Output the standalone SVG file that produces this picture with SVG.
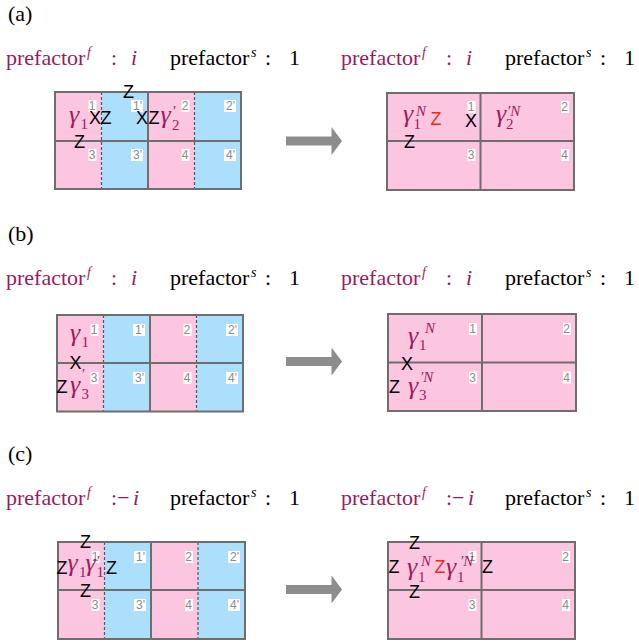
<svg xmlns="http://www.w3.org/2000/svg" width="639" height="644" viewBox="0 0 639 644">
<style>
.pk{fill:#fcc5e0}
.bl{fill:#abdffb}
.gl{fill:none;stroke:#6e6e6e;stroke-width:2}
.dl{stroke:#555;stroke-width:1.2;stroke-dasharray:3 2}
.lb{fill:#fff}
.lt{font-family:"Liberation Sans",Arial,sans-serif;font-size:12px;fill:#8a8a8a;text-anchor:end}
.op{font-family:"Liberation Sans",Arial,sans-serif;font-size:18px;fill:#000}
.red{fill:#ee2a1c}
.g{font-family:"Liberation Serif","DejaVu Serif",serif;font-style:italic;font-size:26px;fill:#9b1b5b}
.sb{font-family:"Liberation Serif","DejaVu Serif",serif;font-size:15px;fill:#9b1b5b}
.sp{font-family:"Liberation Serif","DejaVu Serif",serif;font-style:italic;font-size:15px;fill:#9b1b5b}
.hd{font-family:"Liberation Serif",serif;font-size:22px;fill:#000}
.mag{fill:#9b1b5b}
.it{font-style:italic}
.sup{font-family:"Liberation Serif",serif;font-style:italic;font-size:14px}
.arr{fill:#8d8d8d}
</style>

<g id="panel-a">
  <text class="hd" x="8" y="21">(a)</text>
  <g id="a-prefactors">
    <text class="hd mag" x="6" y="65">prefactor</text>
    <text class="sup mag" x="87" y="57">f</text>
    <text class="hd mag" x="111" y="65">:</text>
    <text class="hd mag it" x="131" y="65">i</text>
    <text class="hd" x="170" y="65">prefactor</text>
    <text class="sup" x="251" y="57">s</text>
    <text class="hd" x="265" y="65">:</text>
    <text class="hd" x="289" y="65">1</text>
    <text class="hd mag" x="341" y="65">prefactor</text>
    <text class="sup mag" x="422" y="57">f</text>
    <text class="hd mag" x="446" y="65">:</text>
    <text class="hd mag it" x="466" y="65">i</text>
    <text class="hd" x="505" y="65">prefactor</text>
    <text class="sup" x="586" y="57">s</text>
    <text class="hd" x="600" y="65">:</text>
    <text class="hd" x="624" y="65">1</text>
  </g>
  <g id="a-left">
    <rect class="pk" x="55" y="92" width="46.5" height="97"/>
    <rect class="bl" x="101.5" y="92" width="46.5" height="97"/>
    <rect class="pk" x="148" y="92" width="46.5" height="97"/>
    <rect class="bl" x="194.5" y="92" width="46.5" height="97"/>
    <line class="dl" x1="101.5" y1="92" x2="101.5" y2="189"/>
    <line class="dl" x1="194.5" y1="92" x2="194.5" y2="189"/>
    <path class="gl" d="M55,92H241V189H55Z M148,92V189 M55,141H241"/>
    <rect class="lb" x="88.5" y="100" width="8" height="12"/><text class="lt" x="95.5" y="110">1</text>
    <rect class="lb" x="131" y="100" width="12" height="12"/><text class="lt" x="142" y="110">1'</text>
    <rect class="lb" x="181.5" y="100" width="8" height="12"/><text class="lt" x="188.5" y="110">2</text>
    <rect class="lb" x="224" y="100" width="12" height="12"/><text class="lt" x="235" y="110">2'</text>
    <rect class="lb" x="88.5" y="149" width="8" height="12"/><text class="lt" x="95.5" y="159">3</text>
    <rect class="lb" x="131" y="149" width="12" height="12"/><text class="lt" x="142" y="159">3'</text>
    <rect class="lb" x="181.5" y="149" width="8" height="12"/><text class="lt" x="188.5" y="159">4</text>
    <rect class="lb" x="224" y="149" width="12" height="12"/><text class="lt" x="235" y="159">4'</text>
    <text class="g" x="69" y="123">γ</text><text class="sb" x="80.5" y="129">1</text>
    <text class="op" x="89" y="123.5">X</text>
    <text class="op" x="100.5" y="123.5">Z</text>
    <text class="op" x="123" y="97.5">Z</text>
    <text class="op" x="136" y="123.5">X</text>
    <text class="op" x="148.5" y="123.5">Z</text>
    <text class="g" x="160.5" y="123">γ</text><text class="sb" x="173" y="116">′</text><text class="sb" x="172" y="130">2</text>
    <text class="op" x="74" y="147.5">Z</text>
  </g>
  <g id="a-right">
    <rect class="pk" x="387" y="93" width="187" height="97"/>
    <path class="gl" d="M387,93H574V190H387Z M480.5,93V190 M387,141H574"/>
    <rect class="lb" x="467.5" y="101" width="8" height="12"/><text class="lt" x="474.5" y="111">1</text>
    <rect class="lb" x="561" y="101" width="8" height="12"/><text class="lt" x="568" y="111">2</text>
    <rect class="lb" x="467.5" y="149" width="8" height="12"/><text class="lt" x="474.5" y="159">3</text>
    <rect class="lb" x="561" y="149" width="8" height="12"/><text class="lt" x="568" y="159">4</text>
    <text class="g" x="403" y="122">γ</text><text class="sb" x="413.5" y="129">1</text><text class="sp" x="416" y="116">N</text>
    <text class="op red" x="430.5" y="125">Z</text>
    <text class="op" x="465" y="126.5">X</text>
    <text class="g" x="496" y="122">γ</text><text class="sp" x="507" y="116">′N</text><text class="sb" x="506" y="129">2</text>
    <text class="op" x="404" y="148">Z</text>
  </g>
</g>

<g id="panel-b">
  <text class="hd" x="8" y="241">(b)</text>
  <g id="b-prefactors">
    <text class="hd mag" x="6" y="285">prefactor</text>
    <text class="sup mag" x="87" y="277">f</text>
    <text class="hd mag" x="111" y="285">:</text>
    <text class="hd mag it" x="131" y="285">i</text>
    <text class="hd" x="170" y="285">prefactor</text>
    <text class="sup" x="251" y="277">s</text>
    <text class="hd" x="265" y="285">:</text>
    <text class="hd" x="289" y="285">1</text>
    <text class="hd mag" x="341" y="285">prefactor</text>
    <text class="sup mag" x="422" y="277">f</text>
    <text class="hd mag" x="446" y="285">:</text>
    <text class="hd mag it" x="466" y="285">i</text>
    <text class="hd" x="505" y="285">prefactor</text>
    <text class="sup" x="586" y="277">s</text>
    <text class="hd" x="600" y="285">:</text>
    <text class="hd" x="624" y="285">1</text>
  </g>
  <g id="b-left">
    <rect class="pk" x="57" y="315" width="46.5" height="96.5"/>
    <rect class="bl" x="103.5" y="315" width="46.5" height="96.5"/>
    <rect class="pk" x="150" y="315" width="46.5" height="96.5"/>
    <rect class="bl" x="196.5" y="315" width="46.5" height="96.5"/>
    <line class="dl" x1="103.5" y1="315" x2="103.5" y2="411.5"/>
    <line class="dl" x1="196.5" y1="315" x2="196.5" y2="411.5"/>
    <path class="gl" d="M57,315H243V411.5H57Z M150,315V411.5 M57,363H243"/>
    <rect class="lb" x="90.5" y="324" width="8" height="12"/><text class="lt" x="97.5" y="334">1</text>
    <rect class="lb" x="133" y="324" width="12" height="12"/><text class="lt" x="144" y="334">1'</text>
    <rect class="lb" x="183.5" y="324" width="8" height="12"/><text class="lt" x="190.5" y="334">2</text>
    <rect class="lb" x="226" y="324" width="12" height="12"/><text class="lt" x="237" y="334">2'</text>
    <rect class="lb" x="90.5" y="372" width="8" height="12"/><text class="lt" x="97.5" y="382">3</text>
    <rect class="lb" x="133" y="372" width="12" height="12"/><text class="lt" x="144" y="382">3'</text>
    <rect class="lb" x="183.5" y="372" width="8" height="12"/><text class="lt" x="190.5" y="382">4</text>
    <rect class="lb" x="226" y="372" width="12" height="12"/><text class="lt" x="237" y="382">4'</text>
    <text class="g" x="70" y="341">γ</text><text class="sb" x="81.5" y="347">1</text>
    <text class="op" x="69.5" y="369">X</text>
    <text class="op" x="56.5" y="392.5">Z</text>
    <text class="g" x="70" y="393">γ</text><text class="sb" x="82" y="379">′</text><text class="sb" x="81.5" y="398.5">3</text>
  </g>
  <g id="b-right">
    <rect class="pk" x="388" y="314" width="188" height="97"/>
    <path class="gl" d="M388,314H576V411H388Z M482,314V411 M388,362.5H576"/>
    <rect class="lb" x="469" y="323" width="8" height="12"/><text class="lt" x="476" y="333">1</text>
    <rect class="lb" x="563" y="323" width="8" height="12"/><text class="lt" x="570" y="333">2</text>
    <rect class="lb" x="469" y="371.5" width="8" height="12"/><text class="lt" x="476" y="381.5">3</text>
    <rect class="lb" x="563" y="371.5" width="8" height="12"/><text class="lt" x="570" y="381.5">4</text>
    <text class="g" x="408" y="344">γ</text><text class="sb" x="419" y="350">1</text><text class="sp" x="425" y="333">N</text>
    <text class="op" x="401" y="369.5">X</text>
    <text class="op" x="389" y="393">Z</text>
    <text class="g" x="408" y="394">γ</text><text class="sp" x="420" y="382">′N</text><text class="sb" x="419" y="400">3</text>
  </g>
</g>

<g id="panel-c">
  <text class="hd" x="8" y="461">(c)</text>
  <g id="c-prefactors">
    <text class="hd mag" x="6" y="505">prefactor</text>
    <text class="sup mag" x="87" y="497">f</text>
    <text class="hd mag" x="111" y="505">:</text>
    <text class="hd mag" x="117" y="505">−</text>
    <text class="hd mag it" x="133" y="505">i</text>
    <text class="hd" x="170" y="505">prefactor</text>
    <text class="sup" x="251" y="497">s</text>
    <text class="hd" x="265" y="505">:</text>
    <text class="hd" x="289" y="505">1</text>
    <text class="hd mag" x="341" y="505">prefactor</text>
    <text class="sup mag" x="422" y="497">f</text>
    <text class="hd mag" x="446" y="505">:</text>
    <text class="hd mag" x="452" y="505">−</text>
    <text class="hd mag it" x="468" y="505">i</text>
    <text class="hd" x="505" y="505">prefactor</text>
    <text class="sup" x="586" y="497">s</text>
    <text class="hd" x="600" y="505">:</text>
    <text class="hd" x="624" y="505">1</text>
  </g>
  <g id="c-left">
    <rect class="pk" x="58" y="542" width="46.5" height="97"/>
    <rect class="bl" x="104.5" y="542" width="46.5" height="97"/>
    <rect class="pk" x="151" y="542" width="47" height="97"/>
    <rect class="bl" x="198" y="542" width="47" height="97"/>
    <line class="dl" x1="104.5" y1="542" x2="104.5" y2="639"/>
    <line class="dl" x1="198" y1="542" x2="198" y2="639"/>
    <path class="gl" d="M58,542H245V639H58Z M151,542V639 M58,590H245"/>
    <rect class="lb" x="91.5" y="551" width="8" height="12"/><text class="lt" x="98.5" y="561">1</text>
    <rect class="lb" x="134" y="551" width="12" height="12"/><text class="lt" x="145" y="561">1'</text>
    <rect class="lb" x="185" y="551" width="8" height="12"/><text class="lt" x="192" y="561">2</text>
    <rect class="lb" x="228" y="551" width="12" height="12"/><text class="lt" x="239" y="561">2'</text>
    <rect class="lb" x="91.5" y="599" width="8" height="12"/><text class="lt" x="98.5" y="609">3</text>
    <rect class="lb" x="134" y="599" width="12" height="12"/><text class="lt" x="145" y="609">3'</text>
    <rect class="lb" x="185" y="599" width="8" height="12"/><text class="lt" x="192" y="609">4</text>
    <rect class="lb" x="228" y="599" width="12" height="12"/><text class="lt" x="239" y="609">4'</text>
    <text class="op" x="80" y="548">Z</text>
    <text class="op" x="56.5" y="574">Z</text>
    <text class="g" x="67.5" y="571">γ</text><text class="sb" x="79" y="577">1</text>
    <text class="g" x="85.5" y="571">γ</text><text class="sb" x="97" y="566">′</text><text class="sb" x="96.5" y="577">1</text>
    <text class="op" x="106" y="574">Z</text>
    <text class="op" x="80" y="597">Z</text>
  </g>
  <g id="c-right">
    <rect class="pk" x="388" y="542" width="187" height="97"/>
    <path class="gl" d="M388,542H575V639H388Z M481.5,542V639 M388,590H575"/>
    <rect class="lb" x="468.5" y="551" width="8" height="12"/><text class="lt" x="475.5" y="561">1</text>
    <rect class="lb" x="562" y="551" width="8" height="12"/><text class="lt" x="569" y="561">2</text>
    <rect class="lb" x="468.5" y="599" width="8" height="12"/><text class="lt" x="475.5" y="609">3</text>
    <rect class="lb" x="562" y="599" width="8" height="12"/><text class="lt" x="569" y="609">4</text>
    <text class="op" x="409" y="548.5">Z</text>
    <text class="op" x="388.5" y="573">Z</text>
    <text class="g" x="407" y="575">γ</text><text class="sb" x="418" y="582">1</text><text class="sp" x="421" y="566">N</text>
    <text class="op red" x="434.5" y="573">Z</text>
    <text class="g" x="446" y="575">γ</text><text class="sb" x="457" y="582">1</text><text class="sp" x="460" y="566">′N</text>
    <text class="op" x="482" y="573">Z</text>
    <text class="op" x="409" y="598">Z</text>
  </g>
</g>

<g id="connectors">
  <path class="arr" d="M286,136.5H331.5V127L342,141L331.5,155V145.5H286Z"/>
  <path class="arr" d="M286,357H331.5V347.5L342,361.5L331.5,375.5V366H286Z"/>
  <path class="arr" d="M286,585H331.5V575.5L342,589.5L331.5,603.5V594H286Z"/>
</g>
</svg>
